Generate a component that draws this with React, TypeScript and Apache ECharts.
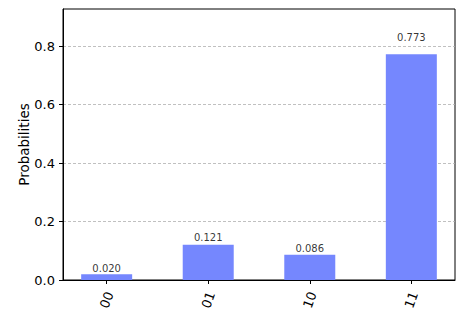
import React, { useEffect, useRef } from "react";
import * as echarts from "echarts";

const categories = ["00", "01", "10", "11"];
const probabilities = [0.02, 0.121, 0.086, 0.773];
const yTicks = [0, 0.2, 0.4, 0.6, 0.8];

const FONT = "DejaVu Sans";

export default function App() {
  const ref = useRef<HTMLDivElement>(null);
  useEffect(() => {
    if (!ref.current) return;
    const chart = echarts.init(ref.current, undefined, { renderer: "svg" });
    const yMax = Math.max(...probabilities) * 1.2;
    chart.setOption({
      animation: false,
      grid: {
        left: 63,
        right: 15,
        top: 9,
        bottom: 40,
        show: true,
        borderColor: "#000",
        borderWidth: 1,
        backgroundColor: "transparent",
      },
      xAxis: {
        type: "value",
        min: -0.43,
        max: 3.43,
        interval: 1,
        splitLine: { show: false },
        axisLine: { show: true, onZero: false, lineStyle: { color: "#000" } },
        axisTick: {
          show: true,
          length: 4,
          lineStyle: { color: "#000" },
          customValues: categories.map((_, i) => i),
        },
        axisLabel: {
          customValues: categories.map((_, i) => i),
          formatter: (v: number) => categories[Math.round(v)] ?? "",
          rotate: 70,
          align: "center",
          verticalAlign: "middle",
          margin: 20,
          fontSize: 13,
          fontFamily: FONT,
          color: "#000",
        },
      },
      yAxis: {
        type: "value",
        min: 0,
        max: yMax,
        interval: 0.2,
        name: "Probabilities",
        nameLocation: "middle",
        nameGap: 32,
        nameMoveOverlap: false,
        nameTextStyle: { fontSize: 13.5, fontFamily: FONT, color: "#000" },
        axisLine: { show: true, onZero: false, lineStyle: { color: "#000" } },
        axisTick: { show: true, length: 4, lineStyle: { color: "#000" }, customValues: yTicks },
        axisLabel: {
          customValues: yTicks,
          formatter: (v: number) => v.toFixed(1),
          margin: 8,
          fontSize: 13,
          fontFamily: FONT,
          color: "#000",
        },
        splitLine: {
          show: true,
          lineStyle: { color: "#b0b0b0", type: [3, 2], width: 0.8 },
        },
      },
      series: [
        {
          type: "bar",
          data: probabilities.map((v, i) => [i, v]),
          barWidth: 51,
          itemStyle: { color: "#7587fe" },
        },
        {
          type: "scatter",
          data: probabilities.map((v, i) => [i, v * 1.05]),
          symbolSize: 0,
          silent: true,
          label: {
            show: true,
            position: "top",
            distance: 0,
            formatter: (p: any) => probabilities[p.dataIndex].toFixed(3),
            fontSize: 10,
            fontFamily: FONT,
            color: "#000",
          },
        },
      ],
    });
    return () => chart.dispose();
  }, []);
  return <div ref={ref} style={{ width: 470, height: 320, position: "absolute", left: 0, top: 0 }} />;
}
